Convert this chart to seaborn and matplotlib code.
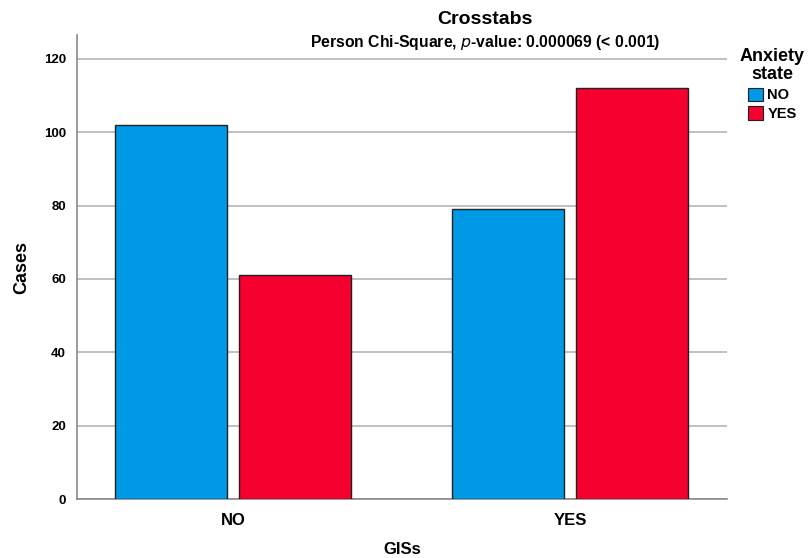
import matplotlib
matplotlib.use("Agg")
import matplotlib.pyplot as plt
import seaborn as sns
import pandas as pd
from matplotlib.patches import Patch

gis = ["NO", "NO", "YES", "YES"]
anxiety = ["NO", "YES", "NO", "YES"]
cases = [102, 61, 79, 112]
yticks = [0, 20, 40, 60, 80, 100, 120]

df = pd.DataFrame({"GISs": gis, "Anxiety state": anxiety, "Cases": cases})

sns.set_theme(style="white")
plt.rcParams['font.family'] = ['Liberation Sans', 'DejaVu Sans']
plt.rcParams['text.color'] = 'black'
plt.rcParams['axes.labelcolor'] = 'black'
plt.rcParams['xtick.color'] = 'black'
plt.rcParams['ytick.color'] = 'black'

colors = {"NO": "#0099E6", "YES": "#F5002F"}

fig = plt.figure(figsize=(8.08, 5.58), dpi=100)
ax = fig.add_axes([77/808, 1-499/558, 650/808, 464/558])

sns.barplot(data=df, x="GISs", y="Cases", hue="Anxiety state", palette=colors,
            saturation=1, width=0.736, gap=0.1, edgecolor="#222222", linewidth=1.0,
            ax=ax, legend=False, zorder=3)

ax.set_xlim(-0.463, 1.465)
ax.set_ylim(0, 126.5)
ax.set_yticks(yticks)
ax.set_yticklabels([str(t) for t in yticks], fontweight="bold", fontsize=9.5)
ax.yaxis.grid(True, color="#b5b5b5", linewidth=1.2, zorder=0)
ax.set_axisbelow(True)
for s in ["top", "right"]:
    ax.spines[s].set_visible(False)
for s in ["left", "bottom"]:
    ax.spines[s].set_color("#8a8a8a")
    ax.spines[s].set_linewidth(1.2)
ax.tick_params(axis="both", length=0, pad=8)
for lab in ax.get_xticklabels():
    lab.set_fontweight("bold")
    lab.set_fontsize(12)
ax.tick_params(axis="x", pad=10)
ax.set_xlabel("GISs", fontweight="bold", fontsize=12)
ax.set_ylabel("Cases", fontweight="bold", fontsize=13)
ax.xaxis.set_label_coords((402-77)/650, -(550-499)/464)
ax.yaxis.set_label_coords(-(77-22)/650, 0.5)
ax.xaxis.label.set_verticalalignment("center")
ax.yaxis.label.set_verticalalignment("center")

fig.text(485/808, 1-20/558, "Crosstabs", ha="center", va="center",
         fontweight="bold", fontsize=14)
fig.text(485/808, 1-42/558, "Person Chi-Square, $p$-value: 0.000069 (< 0.001)",
         ha="center", va="center", fontweight="bold", fontsize=11.3)

handles = [Patch(facecolor=colors[k], edgecolor="#222222", linewidth=0.8, label=k)
           for k in ["NO", "YES"]]
leg = fig.legend(handles=handles, title="Anxiety\nstate", loc="upper left",
                 bbox_to_anchor=(737/808, 1-45/558), frameon=False,
                 prop={"weight": "bold", "size": 10.5}, handlelength=1.0,
                 handleheight=1.0, handletextpad=0.3, labelspacing=0.3,
                 borderaxespad=0, borderpad=0.2)
leg.get_title().set_fontweight("bold")
leg.get_title().set_fontsize(13)
leg.get_title().set_multialignment("center")
leg.get_title().set_linespacing(1.1)

fig.savefig("out.png", dpi=100)
